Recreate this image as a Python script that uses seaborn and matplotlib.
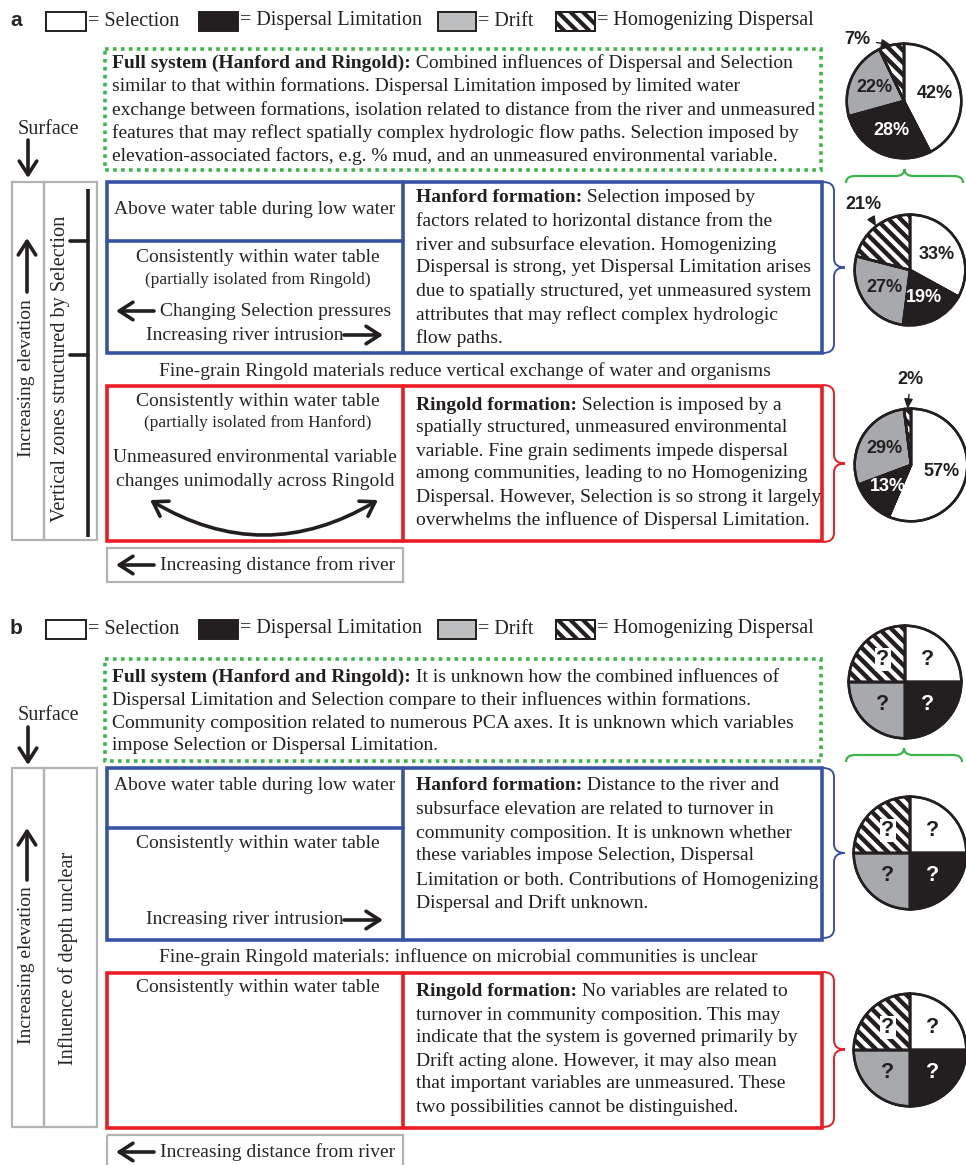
import numpy as np
import matplotlib
matplotlib.use("Agg")
import matplotlib.pyplot as plt
import seaborn as sns
from matplotlib.patches import Rectangle, FancyArrowPatch, PathPatch, Wedge
from matplotlib.path import Path

# ---------------- data ----------------
components = ["Selection", "Dispersal Limitation", "Drift", "Homogenizing Dispersal"]
full_a = [42, 28, 22, 7]
hanford_a = [33, 19, 27, 21]
ringold_a = [57, 13, 29, 2]
unknown_b = [25, 25, 25, 25]

full_a_text = [
    ("Full system (Hanford and Ringold):", " Combined influences of Dispersal and Selection"),
    ("", "similar to that within formations. Dispersal Limitation imposed by limited water"),
    ("", "exchange between formations, isolation related to distance from the river and unmeasured"),
    ("", "features that may reflect spatially complex hydrologic flow paths. Selection imposed by"),
    ("", "elevation-associated factors, e.g. % mud, and an unmeasured environmental variable."),
]
hanford_a_text = [
    ("Hanford formation:", " Selection imposed by"),
    ("", "factors related to horizontal distance from the"),
    ("", "river and subsurface elevation. Homogenizing"),
    ("", "Dispersal is strong, yet Dispersal Limitation arises"),
    ("", "due to spatially structured, yet unmeasured system"),
    ("", "attributes that may reflect complex hydrologic"),
    ("", "flow paths."),
]
ringold_a_text = [
    ("Ringold formation:", " Selection is imposed by a"),
    ("", "spatially structured, unmeasured environmental"),
    ("", "variable. Fine grain sediments impede dispersal"),
    ("", "among communities, leading to no Homogenizing"),
    ("", "Dispersal. However, Selection is so strong it largely"),
    ("", "overwhelms the influence of Dispersal Limitation."),
]
full_b_text = [
    ("Full system (Hanford and Ringold):", " It is unknown how the combined influences of"),
    ("", "Dispersal Limitation and Selection compare to their influences within formations."),
    ("", "Community composition related to numerous PCA axes. It is unknown which variables"),
    ("", "impose Selection or Dispersal Limitation."),
]
hanford_b_text = [
    ("Hanford formation:", " Distance to the river and"),
    ("", "subsurface elevation are related to turnover in"),
    ("", "community composition. It is unknown whether"),
    ("", "these variables impose Selection, Dispersal"),
    ("", "Limitation or both. Contributions of Homogenizing"),
    ("", "Dispersal and Drift unknown."),
]
ringold_b_text = [
    ("Ringold formation:", " No variables are related to"),
    ("", "turnover in community composition. This may"),
    ("", "indicate that the system is governed primarily by"),
    ("", "Drift acting alone. However, it may also mean"),
    ("", "that important variables are unmeasured. These"),
    ("", "two possibilities cannot be distinguished."),
]

# ---------------- style ----------------
sns.set_theme(style="white")
plt.rcParams["font.family"] = ["Liberation Serif", "DejaVu Serif"]

BLACK = "#231f20"
PGREY = "#a7a9ac"
LGREY = "#bcbec0"
BLUE = "#3953a4"
RED = "#ec1c24"
GREEN = "#3cb54a"
BOXGREY = "#b3b3b3"
fills = ["white", BLACK, PGREY, "white"]
FS = 14.0
LEG_FS = 14.5
SANS = ["Liberation Sans", "DejaVu Sans"]
STRIPE_PX = 12.5

W, H = 966, 1165
fig = plt.figure(figsize=(W / 100, H / 100), dpi=100)
ax = fig.add_axes([0, 0, 1, 1])
ax.set_xlim(0, W)
ax.set_ylim(H, 0)
ax.axis("off")
renderer = fig.canvas.get_renderer()


def rich_lines(lines, x, ys, size=FS):
    for (b, r), y in zip(lines, ys):
        xx = x
        if b:
            t = ax.text(xx, y, b, fontweight="bold", fontsize=size, va="center", ha="left", color=BLACK)
            bb = t.get_window_extent(renderer)
            xx = ax.transData.inverted().transform((bb.x1, bb.y0))[0]
        ax.text(xx, y, r, fontsize=size, va="center", ha="left", color=BLACK)


def rect(x0, y0, x1, y1, ec, lw, ls="-", fc="none", z=2):
    p = Rectangle((x0, y0), x1 - x0, y1 - y0, fill=(fc != "none"), facecolor=fc,
                  edgecolor=ec, lw=lw, ls=ls, zorder=z)
    ax.add_patch(p)
    return p


def arrow(x0, y0, x1, y1, lw=2.6, hl=0.7, hw=0.45):
    ax.add_patch(FancyArrowPatch((x0, y0), (x1, y1),
                                 arrowstyle=f"->,head_length={hl},head_width={hw}",
                                 color=BLACK, lw=lw, mutation_scale=14, zorder=5,
                                 shrinkA=0, shrinkB=0))


def vbrace(x, y1, y2, d, color, lw=1.4):
    ym = (y1 + y2) / 2
    q = 9
    verts = [(x, y1), (x + d, y1), (x + d, y1 + q), (x + d, ym - q), (x + d, ym), (x + 2 * d, ym),
             (x + d, ym), (x + d, ym + q), (x + d, y2 - q), (x + d, y2), (x, y2)]
    codes = [Path.MOVETO, Path.CURVE3, Path.CURVE3, Path.LINETO, Path.CURVE3, Path.CURVE3,
             Path.CURVE3, Path.CURVE3, Path.LINETO, Path.CURVE3, Path.CURVE3]
    ax.add_patch(PathPatch(Path(verts, codes), fc="none", ec=color, lw=lw))


def hbrace(x1, x2, y, d, color, lw=1.6):
    xm = (x1 + x2) / 2
    q = 9
    verts = [(x1, y), (x1, y - d), (x1 + q, y - d), (xm - q, y - d), (xm, y - d), (xm, y - 2 * d),
             (xm, y - d), (xm + q, y - d), (x2 - q, y - d), (x2, y - d), (x2, y)]
    codes = [Path.MOVETO, Path.CURVE3, Path.CURVE3, Path.LINETO, Path.CURVE3, Path.CURVE3,
             Path.CURVE3, Path.CURVE3, Path.LINETO, Path.CURVE3, Path.CURVE3]
    ax.add_patch(PathPatch(Path(verts, codes), fc="none", ec=color, lw=lw))


def stripes(axes, patch, xr, yr, step, sign, lw=3.2, z=3):
    # diagonal "\" stripes clipped to a patch; sign=-1 for y-up axes, +1 for y-down axes
    x0, x1 = xr
    y0, y1 = yr
    if sign > 0:
        cmin, cmax = y0 - x1, y1 - x0
    else:
        cmin, cmax = y0 + x0, y1 + x1
    xs = np.array([x0 - 5 * step, x1 + 5 * step])
    for c in np.arange(cmin - step, cmax + step, step):
        ln, = axes.plot(xs, sign * xs + c, color=BLACK, lw=lw, solid_capstyle="butt", zorder=z)
        ln.set_clip_path(patch)


def pie(cx, cy, r, values, labels, small_offset=None):
    pa = fig.add_axes([(cx - r) / W, 1 - (cy + r) / H, 2 * r / W, 2 * r / H])
    wedges, _ = pa.pie(values, colors=fills, startangle=90, counterclock=False, radius=1,
                       wedgeprops=dict(edgecolor=BLACK, linewidth=1.8))
    pa.set_xlim(-1.03, 1.03)
    pa.set_ylim(-1.03, 1.03)
    pa.set_aspect("equal")
    pa.axis("off")
    for w in wedges:
        w.set_zorder(1)
    stripes(pa, wedges[3], (-1.05, 1.05), (-1.05, 1.05), STRIPE_PX / r, -1, z=1.5)
    for w in wedges:
        pa.add_patch(Wedge(w.center, w.r, w.theta1, w.theta2, fill=False, ec=BLACK, lw=1.8, zorder=2))
    for i, (w, lab) in enumerate(zip(wedges, labels)):
        ang = np.deg2rad((w.theta1 + w.theta2) / 2)
        col = "white" if i == 1 else BLACK
        if i == 3 and small_offset is not None:
            pa.annotate(lab, xy=(np.cos(ang), np.sin(ang)), xytext=small_offset,
                        textcoords="offset pixels", ha="center", va="center",
                        fontsize=13, fontweight="bold", family=SANS, color=BLACK,
                        arrowprops=dict(arrowstyle="-|>,head_length=0.45,head_width=0.2",
                                        color=BLACK, lw=1.0, shrinkA=2, shrinkB=0),
                        annotation_clip=False, zorder=5)
        else:
            bbox = dict(facecolor="white", edgecolor="none", pad=1.0) if i == 3 else None
            pa.text(0.56 * np.cos(ang), 0.56 * np.sin(ang), lab, ha="center", va="center",
                    fontsize=13 if "%" in lab else 15.5, fontweight="bold", family=SANS,
                    color=col, bbox=bbox, zorder=5)


def legend(y, xs, size):
    for (rx0, rx1, tx), fc, name, i in zip(xs, ["white", BLACK, LGREY, "white"], components, range(4)):
        p = rect(rx0, y - 9.5, rx1, y + 9.5, BLACK, 1.4, fc=fc)
        if i == 3:
            stripes(ax, p, (rx0, rx1), (y - 9.5, y + 9.5), STRIPE_PX, 1, lw=3.0)
            rect(rx0, y - 9.5, rx1, y + 9.5, BLACK, 1.4, z=4)
        ax.text(tx, y, "= " + name, fontsize=size, va="center", ha="left", color=BLACK)


LEG_X = [(46, 86, 88), (199, 238, 240), (438, 476, 478), (556, 595, 597)]

# =============== PANEL A ===============
ax.text(10, 20, "a", fontsize=15, fontweight="bold", family=SANS, va="center", ha="left")
legend(21, LEG_X, LEG_FS)

rect(105, 49, 821, 170, GREEN, 2.6, ls=(0, (1, 1.2)))
rich_lines(full_a_text, 112, [63, 86, 110, 133, 156])

ax.text(48, 130, "Surface", fontsize=FS + 0.5, ha="center", va="center")
arrow(28, 140, 28, 178)

# left columns
rect(12, 182, 44, 540, BOXGREY, 1.6)
rect(44, 182, 97, 540, BOXGREY, 1.6)
arrow(27, 292, 27, 238)
ax.text(27, 378, "Increasing elevation", rotation=90, fontsize=FS, ha="center", va="center")
ax.text(61, 369, "Vertical zones structured by Selection", rotation=90, fontsize=FS + 0.6,
        ha="center", va="center")
ax.plot([88, 88], [189, 537], color=BLACK, lw=2.6, solid_capstyle="butt")
ax.plot([70, 88], [241, 241], color=BLACK, lw=2.6)
ax.plot([70, 88], [355, 355], color=BLACK, lw=2.6)

# Hanford box
rect(107, 182, 822, 353, BLUE, 2.6)
ax.plot([403, 403], [182, 353], color=BLUE, lw=2.6)
ax.plot([107, 403], [241, 241], color=BLUE, lw=2.6)
ax.text(255, 210, "Above water table during low water", fontsize=FS, ha="center", va="center")
ax.text(258, 257, "Consistently within water table", fontsize=FS, ha="center", va="center")
ax.text(258, 280, "(partially isolated from Ringold)", fontsize=FS - 1.6, ha="center", va="center")
ax.text(160, 311, "Changing Selection pressures", fontsize=FS, ha="left", va="center")
arrow(154, 311, 116, 311)
ax.text(343, 335, "Increasing river intrusion", fontsize=FS, ha="right", va="center")
arrow(344, 335, 383, 335)
rich_lines(hanford_a_text, 416, [198, 221, 245, 268, 291, 315, 338])

ax.text(465, 371, "Fine-grain Ringold materials reduce vertical exchange of water and organisms",
        fontsize=FS, ha="center", va="center")

# Ringold box
rect(107, 386, 822, 541, RED, 2.6)
ax.plot([403, 403], [386, 541], color=RED, lw=2.6)
ax.text(258, 402, "Consistently within water table", fontsize=FS, ha="center", va="center")
ax.text(258, 423, "(partially isolated from Hanford)", fontsize=FS - 1.6, ha="center", va="center")
ax.text(255, 458, "Unmeasured environmental variable", fontsize=FS, ha="center", va="center")
ax.text(255, 481, "changes unimodally across Ringold", fontsize=FS, ha="center", va="center")
ax.add_patch(FancyArrowPatch((150, 500), (378, 500), connectionstyle="arc3,rad=0.3",
                             arrowstyle="<->,head_length=0.7,head_width=0.45", mutation_scale=14,
                             color=BLACK, lw=2.6, shrinkA=0, shrinkB=0))
rich_lines(ringold_a_text, 416, [405, 428, 451, 474, 497, 520])

rect(107, 548, 403, 582, BOXGREY, 1.6)
arrow(154, 565, 116, 565)
ax.text(160, 565, "Increasing distance from river", fontsize=FS, ha="left", va="center")

# braces a
hbrace(846, 963, 183, 7, GREEN)
vbrace(823, 182, 353, 11, BLUE)
vbrace(823, 385, 542, 11, RED)

pie(904, 101, 59, full_a, [f"{v}%" for v in full_a], small_offset=(-34, 6))
pie(910, 270, 57, hanford_a, [f"{v}%" for v in hanford_a], small_offset=(-13, 22))
pie(911, 465, 58, ringold_a, [f"{v}%" for v in ringold_a], small_offset=(3, 29))

# =============== PANEL B ===============
ax.text(10, 628, "b", fontsize=15, fontweight="bold", family=SANS, va="center", ha="left")
legend(629, LEG_X, LEG_FS)

rect(105, 659, 821, 761, GREEN, 2.6, ls=(0, (1, 1.2)))
rich_lines(full_b_text, 112, [677, 700, 723, 746])

ax.text(48, 716, "Surface", fontsize=FS + 0.5, ha="center", va="center")
arrow(28, 727, 28, 765)

rect(12, 768, 44, 1127, BOXGREY, 1.6)
rect(44, 768, 97, 1127, BOXGREY, 1.6)
arrow(27, 880, 27, 828)
ax.text(27, 965, "Increasing elevation", rotation=90, fontsize=FS, ha="center", va="center")
ax.text(68, 958, "Influence of depth unclear", rotation=90, fontsize=FS + 0.6, ha="center", va="center")

rect(107, 768, 822, 940, BLUE, 2.6)
ax.plot([403, 403], [768, 940], color=BLUE, lw=2.6)
ax.plot([107, 403], [828, 828], color=BLUE, lw=2.6)
ax.text(255, 786, "Above water table during low water", fontsize=FS, ha="center", va="center")
ax.text(258, 843, "Consistently within water table", fontsize=FS, ha="center", va="center")
ax.text(343, 920, "Increasing river intrusion", fontsize=FS, ha="right", va="center")
arrow(344, 920, 383, 920)
rich_lines(hanford_b_text, 416, [786, 810, 833, 856, 880, 903])

ax.text(458, 957, "Fine-grain Ringold materials: influence on microbial communities is unclear",
        fontsize=FS, ha="center", va="center")

rect(107, 973, 822, 1128, RED, 2.6)
ax.plot([403, 403], [973, 1128], color=RED, lw=2.6)
ax.text(258, 988, "Consistently within water table", fontsize=FS, ha="center", va="center")
rich_lines(ringold_b_text, 416, [992, 1015, 1038, 1061, 1084, 1107])

rect(107, 1135, 403, 1172, BOXGREY, 1.6)
arrow(154, 1152, 116, 1152)
ax.text(160, 1152, "Increasing distance from river", fontsize=FS, ha="left", va="center")

hbrace(846, 962, 762, 7, GREEN)
vbrace(823, 768, 938, 11, BLUE)
vbrace(823, 972, 1127, 11, RED)

qlabels = ["?"] * 4
pie(905, 682, 58, unknown_b, qlabels)
pie(910, 853, 58, unknown_b, qlabels)
pie(910, 1050, 58, unknown_b, qlabels)

fig.savefig("out.png", dpi=100, facecolor="white")
